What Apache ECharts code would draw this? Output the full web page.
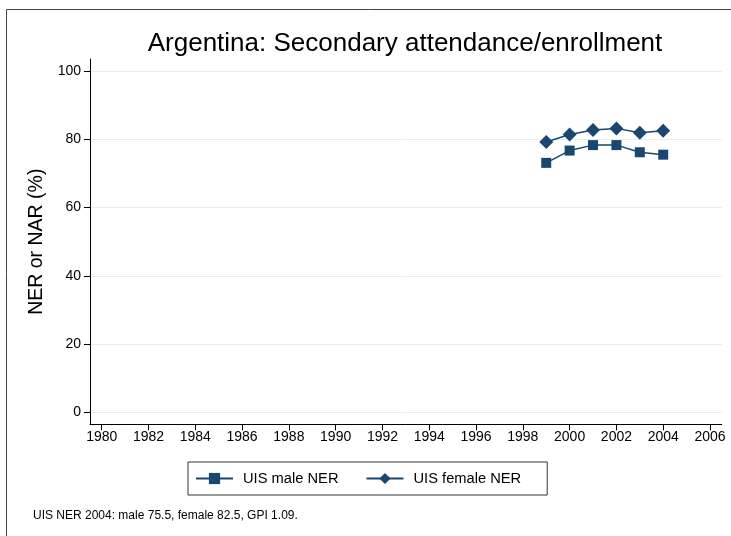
<!DOCTYPE html>
<html>
<head>
<meta charset="utf-8">
<script src="https://cdn.jsdelivr.net/npm/echarts@6/dist/echarts.min.js"></script>
<style>
html,body{margin:0;padding:0;background:#fff;}
#chart{width:731px;height:536px;}
</style>
</head>
<body>
<div id="chart"></div>
<script>
var years = [1999, 2000, 2001, 2002, 2003, 2004];
var maleNER = [73.1, 76.7, 78.3, 78.3, 76.2, 75.5];
var femaleNER = [79.2, 81.4, 82.7, 83.2, 81.9, 82.5];
var yTicks = [0, 20, 40, 60, 80, 100];
var xTicks = [1980,1982,1984,1986,1988,1990,1992,1994,1996,1998,2000,2002,2004,2006];

var font = 'Liberation Sans, Arial, sans-serif';
var navy = '#1a476f';
var chart = echarts.init(document.getElementById('chart'));
chart.setOption({
  animation: false,
  backgroundColor: '#fff',
  textStyle: {fontFamily: font},
  title: {
    text: 'Argentina: Secondary attendance/enrollment',
    left: 400, top: 26, textAlign: 'center',
    textStyle: {fontFamily: font, fontSize: 26, fontWeight: 'normal', color: '#000'}
  },
  graphic: [
    {type: 'rect', shape: {x: 6.5, y: 9.5, width: 800, height: 600},
     style: {fill: 'none', stroke: '#444', lineWidth: 1}, silent: true},
    {type: 'text', left: 33, top: 510,
     style: {text: 'UIS NER 2004: male 75.5, female 82.5, GPI 1.09.', fontFamily: font, fontSize: 12, fill: '#000'}}
  ],
  legend: {
    left: 188, top: 462,
    padding: [9, 26, 9, 7],
    itemGap: 27,
    itemWidth: 37, itemHeight: 14,
    borderColor: '#333', borderWidth: 1,
    textStyle: {fontFamily: font, fontSize: 14.7, color: '#000', padding: [0, 0, 0, 5]},
    data: ['UIS male NER', 'UIS female NER']
  },
  grid: {left: 90, right: 9.3, top: 59.1, bottom: 111.7, containLabel: false},
  xAxis: {
    type: 'value', min: 1979.5, max: 2006.5,
    splitLine: {show: false},
    axisLine: {onZero: false, lineStyle: {color: '#000', width: 1}},
    axisTick: {show: true, length: 6, lineStyle: {color: '#000'},
      customValues: xTicks},
    axisLabel: {fontFamily: font, fontSize: 14, color: '#000', margin: 6,
      customValues: xTicks, formatter: function(v){return String(v);}}
  },
  yAxis: {
    type: 'value', min: -3.5, max: 103.5,
    name: 'NER or NAR (%)', nameLocation: 'middle', nameGap: 39,
    nameTextStyle: {fontFamily: font, fontSize: 19.5, color: '#000'},
    axisLine: {show: true, onZero: false, lineStyle: {color: '#000', width: 1}},
    axisTick: {show: true, length: 6, lineStyle: {color: '#000'}, customValues: yTicks},
    axisLabel: {fontFamily: font, fontSize: 14, color: '#000', margin: 9, customValues: yTicks},
    splitLine: {show: false}
  },
  series: [
    {
      name: 'UIS male NER', type: 'line',
      data: years.map(function(y,i){return [y, maleNER[i]];}),
      symbol: 'rect', symbolSize: 10,
      lineStyle: {color: navy, width: 1.5},
      itemStyle: {color: navy},
      markLine: {
        silent: true, symbol: 'none', label: {show: false},
        lineStyle: {color: '#e4edef', width: 1, type: 'solid'},
        data: yTicks.map(function(t){return {yAxis: t};}),
        z: 0
      },
      z: 3
    },
    {
      name: 'UIS female NER', type: 'line',
      data: years.map(function(y,i){return [y, femaleNER[i]];}),
      symbol: 'diamond', symbolSize: 14,
      lineStyle: {color: navy, width: 1.5},
      itemStyle: {color: navy},
      z: 3
    }
  ]
});
</script>
</body>
</html>
